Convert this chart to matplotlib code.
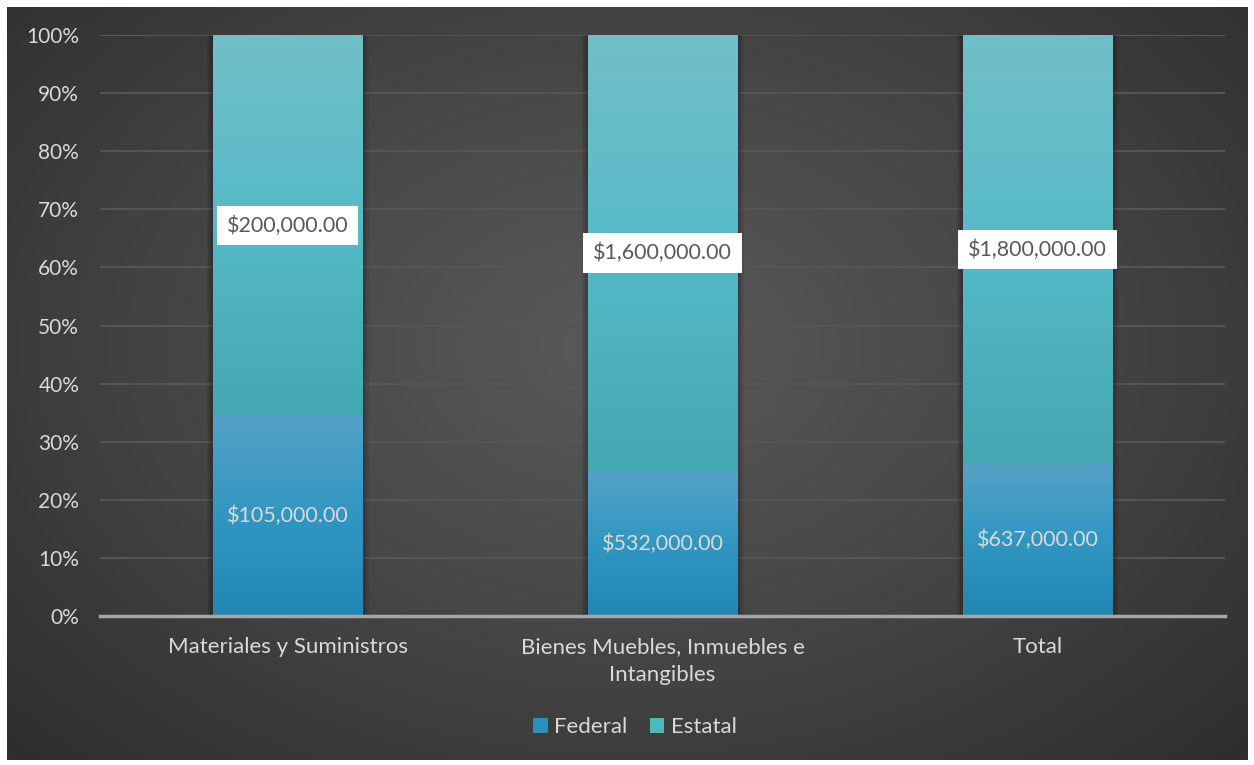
import numpy as np
import matplotlib
matplotlib.use('Agg')
import matplotlib.pyplot as plt
import matplotlib.patches as mpatches
from matplotlib.colors import LinearSegmentedColormap

# data
categories = ['Materiales y Suministros', 'Bienes Muebles, Inmuebles e\nIntangibles', 'Total']
federal = [105000, 532000, 637000]
estatal = [200000, 1600000, 1800000]
series_names = ['Federal', 'Estatal']
yticks = [0, 10, 20, 30, 40, 50, 60, 70, 80, 90, 100]

plt.rcParams['font.family'] = ['Lato', 'DejaVu Sans']
txt_col = '#d9d9d9'

W, H = 1254, 765
fig = plt.figure(figsize=(W / 100, H / 100), dpi=100)
fig.patch.set_facecolor('white')

# dark radial background
bg = fig.add_axes([7 / W, 5 / H, (1248 - 7) / W, (759 - 6) / H])
bg.set_axis_off()
yy, xx = np.mgrid[0:1:300j, 0:1:500j]
r = np.sqrt(((xx - 0.5) / 0.75) ** 2 + ((yy - 0.55) / 0.85) ** 2)
r = np.clip(r, 0, 1)
bg_cmap = LinearSegmentedColormap.from_list('bg', ['#5a5a5a', '#444444', '#2a2a2a'])
bg.imshow(r, cmap=bg_cmap, aspect='auto', extent=[0, 1, 0, 1], origin='lower', vmin=0, vmax=1)

ax = fig.add_axes([100 / W, 1 - 616 / H, (1225 - 100) / W, (616 - 35) / H])
ax.patch.set_alpha(0)

fed = np.array(federal, dtype=float)
est = np.array(estatal, dtype=float)
tot = fed + est
fed_pct = fed / tot * 100
est_pct = est / tot * 100
x = np.arange(len(categories))

fed_cmap = LinearSegmentedColormap.from_list('fed', ['#2286b4', '#3197c2', '#55a1c6'])
est_cmap = LinearSegmentedColormap.from_list('est', ['#44a8b3', '#55bac7', '#72bfc8'])

# soft shadow behind bars
for xi in x:
    for k, a in [(0.016, 0.06), (0.011, 0.08), (0.006, 0.12)]:
        ax.bar(xi, 100, width=0.4 + 2 * k, color='black', alpha=a, zorder=1.5, linewidth=0)

b_fed = ax.bar(x, fed_pct, width=0.4, facecolor='none', linewidth=0, zorder=2)
b_est = ax.bar(x, est_pct, width=0.4, bottom=fed_pct, facecolor='none', linewidth=0, zorder=2)

grad = np.linspace(0, 1, 256).reshape(-1, 1)
for bars, cmap in [(b_fed, fed_cmap), (b_est, est_cmap)]:
    for b in bars:
        x0, y0 = b.get_x(), b.get_y()
        im = ax.imshow(grad, cmap=cmap, aspect='auto', origin='lower',
                       extent=[x0, x0 + b.get_width(), y0, y0 + b.get_height()], zorder=2.5)
        im.set_clip_path(b)
ax.set_xlim(-0.5, len(categories) - 0.5)
ax.set_ylim(0, 100)

# value labels
for xi, fp, ep, fv, ev in zip(x, fed_pct, est_pct, federal, estatal):
    ax.text(xi, fp / 2, '${:,.2f}'.format(fv), ha='center', va='center',
            color=txt_col, fontsize=15.5, zorder=4)
    ax.text(xi, fp + ep / 2, '${:,.2f}'.format(ev), ha='center', va='center',
            color='#595959', fontsize=15.5, zorder=4,
            bbox=dict(boxstyle='square,pad=0.45', facecolor='white', edgecolor='none'))

ax.set_yticks(yticks)
ax.set_yticklabels(['{}%'.format(t) for t in yticks])
ax.grid(axis='y', color='#555555', linewidth=1.5, zorder=0)
ax.set_axisbelow(True)
ax.set_xticks(x)
ax.set_xticklabels(categories, linespacing=1.5)
ax.tick_params(axis='both', length=0, colors=txt_col)
ax.tick_params(axis='y', pad=15, labelsize=15)
ax.tick_params(axis='x', pad=15, labelsize=16)
for s in ['top', 'right', 'left']:
    ax.spines[s].set_visible(False)
ax.spines['bottom'].set_color('#a6a6a6')
ax.spines['bottom'].set_linewidth(2.5)
ax.spines['bottom'].set_zorder(5)

handles = [mpatches.Patch(facecolor='#2b8fbd', label=series_names[0]),
           mpatches.Patch(facecolor='#4fb7c2', label=series_names[1])]
leg = fig.legend(handles=handles, loc='center', bbox_to_anchor=(635 / W, 1 - 727 / H), ncol=2,
                 frameon=False, fontsize=16, handlelength=0.65, handleheight=0.65,
                 handletextpad=0.3, columnspacing=1.0)
for t in leg.get_texts():
    t.set_color(txt_col)

fig.savefig('out.png', dpi=100, facecolor='white')
